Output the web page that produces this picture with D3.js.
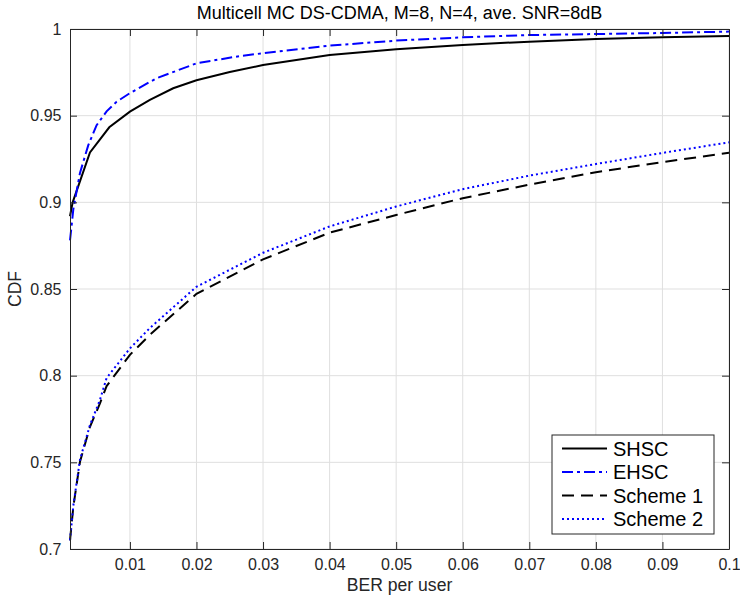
<!DOCTYPE html>
<html>
<head>
<meta charset="utf-8">
<script src="https://cdn.jsdelivr.net/npm/d3@7"></script>
<style>
  body { margin: 0; background: #fff; }
  text { font-family: 'Liberation Sans', Arial, sans-serif; }
</style>
</head>
<body>
<div id="chart"></div>
<script>
// curve data
let berShsc = [0.001, 0.0014, 0.004, 0.0069, 0.01, 0.013, 0.0165, 0.02, 0.025, 0.03, 0.04, 0.05, 0.06, 0.07, 0.08, 0.09, 0.1]
let cdfShsc = [0.892, 0.900, 0.9288, 0.9433, 0.9523, 0.9591, 0.9658, 0.9704, 0.9752, 0.9792, 0.985, 0.9883, 0.9908, 0.9927, 0.9943, 0.9952, 0.996]

let berEhsc = [0.001, 0.0015, 0.0025, 0.00375, 0.005, 0.0065, 0.008, 0.01, 0.014, 0.02, 0.0265, 0.03, 0.04, 0.05, 0.06, 0.07, 0.08, 0.09, 0.1]
let cdfEhsc = [0.878, 0.896, 0.917, 0.933, 0.9445, 0.9525, 0.958, 0.963, 0.9716, 0.9802, 0.9844, 0.986, 0.9904, 0.9933, 0.9952, 0.9965, 0.9971, 0.9977, 0.9985]

let berScheme = [0.001, 0.0015, 0.0025, 0.004, 0.0055, 0.0065, 0.01, 0.013, 0.02, 0.03, 0.04, 0.05, 0.06, 0.07, 0.08, 0.09, 0.1]
let cdfScheme1 = [0.705, 0.7244, 0.7503, 0.7705, 0.784, 0.794, 0.812, 0.8236, 0.8472, 0.8671, 0.8825, 0.8927, 0.9024, 0.9102, 0.9174, 0.9232, 0.9286]
let cdfScheme2 = [0.705, 0.725, 0.7515, 0.7715, 0.786, 0.7987, 0.8157, 0.8275, 0.8513, 0.8709, 0.8861, 0.8976, 0.9076, 0.9154, 0.9221, 0.9285, 0.9346]

let xTicks = [0.01, 0.02, 0.03, 0.04, 0.05, 0.06, 0.07, 0.08, 0.09, 0.1]
let yTicks = [0.7, 0.75, 0.8, 0.85, 0.9, 0.95, 1]
let legendNames = ['SHSC', 'EHSC', 'Scheme 1', 'Scheme 2']

let margin = { top: 29, left: 70, right: 11, bottom: 48 }
let width = 740 - margin.left - margin.right
let height = 597 - margin.top - margin.bottom

let svg = d3
  .select('#chart')
  .append('svg')
  .attr('width', 740)
  .attr('height', 597)

let g = svg
  .append('g')
  .attr('transform', 'translate(' + margin.left + ',' + margin.top + ')')

let x = d3.scaleLinear().domain([0.001, 0.1]).range([0, width])
let y = d3.scaleLinear().domain([0.7, 1]).range([height, 0])

let axisColor = '#262626'
let tickLen = 7

// grid
g.append('g')
  .selectAll('line')
  .data(xTicks)
  .enter()
  .append('line')
  .attr('x1', d => x(d))
  .attr('x2', d => x(d))
  .attr('y1', 0)
  .attr('y2', height)
  .attr('stroke', '#dfdfdf')
  .attr('stroke-width', 1)

g.append('g')
  .selectAll('line')
  .data(yTicks)
  .enter()
  .append('line')
  .attr('x1', 0)
  .attr('x2', width)
  .attr('y1', d => y(d))
  .attr('y2', d => y(d))
  .attr('stroke', '#dfdfdf')
  .attr('stroke-width', 1)

// series
let series = [
  { ber: berShsc, cdf: cdfShsc, color: '#000', dash: null },
  { ber: berEhsc, cdf: cdfEhsc, color: '#0000ff', dash: '11,4,3,4' },
  { ber: berScheme, cdf: cdfScheme1, color: '#000', dash: '12,7' },
  { ber: berScheme, cdf: cdfScheme2, color: '#0000ff', dash: '2,3' }
]

let line = d3
  .line()
  .x(d => x(d[0]))
  .y(d => y(d[1]))

series.forEach(s => {
  g.append('path')
    .datum(s.ber.map((b, i) => [b, s.cdf[i]]))
    .attr('d', line)
    .attr('fill', 'none')
    .attr('stroke', s.color)
    .attr('stroke-width', 2)
    .attr('stroke-dasharray', s.dash)
})

// axes, ticks pointing inward, box on
g.append('g')
  .attr('transform', 'translate(0,' + height + ')')
  .call(d3.axisBottom(x).tickValues(xTicks).tickSizeInner(-tickLen).tickSizeOuter(0).tickPadding(10).tickFormat(d3.format('')))

g.append('g')
  .call(d3.axisLeft(y).tickValues(yTicks).tickSizeInner(-tickLen).tickSizeOuter(0).tickPadding(8.5).tickFormat(d3.format('')))

g.append('g')
  .call(d3.axisTop(x).tickValues(xTicks).tickSizeInner(-tickLen).tickSizeOuter(0).tickFormat(''))

g.append('g')
  .attr('transform', 'translate(' + width + ',0)')
  .call(d3.axisRight(y).tickValues(yTicks).tickSizeInner(-tickLen).tickSizeOuter(0).tickFormat(''))

g.selectAll('.domain').attr('stroke', axisColor)
g.selectAll('.tick line').attr('stroke', axisColor)
g.selectAll('.tick text')
  .attr('fill', axisColor)
  .style('font-size', '16px')
  .style('font-family', "'Liberation Sans', Arial, sans-serif")

// title and labels
svg.append('text')
  .attr('x', margin.left + width / 2)
  .attr('y', 19)
  .attr('text-anchor', 'middle')
  .style('font-size', '18px')
  .attr('fill', '#000')
  .text('Multicell MC DS-CDMA, M=8, N=4, ave. SNR=8dB')

svg.append('text')
  .attr('x', margin.left + width / 2)
  .attr('y', 591)
  .attr('text-anchor', 'middle')
  .style('font-size', '17.6px')
  .attr('fill', axisColor)
  .text('BER per user')

svg.append('text')
  .attr('transform', 'translate(21,' + (margin.top + height / 2) + ') rotate(-90)')
  .attr('text-anchor', 'middle')
  .style('font-size', '17.6px')
  .attr('fill', axisColor)
  .text('CDF')

// legend
let legend = svg.append('g').attr('transform', 'translate(552,435)')

legend.append('rect')
  .attr('width', 162)
  .attr('height', 99)
  .attr('fill', '#fff')
  .attr('stroke', axisColor)
  .attr('stroke-width', 1)

legendNames.forEach((name, i) => {
  let ly = 13.5 + i * 23.5
  legend.append('line')
    .attr('x1', 10)
    .attr('x2', 55)
    .attr('y1', ly)
    .attr('y2', ly)
    .attr('stroke', series[i].color)
    .attr('stroke-width', 2)
    .attr('stroke-dasharray', series[i].dash)
  legend.append('text')
    .attr('x', 61)
    .attr('y', ly)
    .attr('dy', '0.35em')
    .style('font-size', '20px')
    .attr('fill', '#000')
    .text(name)
})
</script>
</body>
</html>
